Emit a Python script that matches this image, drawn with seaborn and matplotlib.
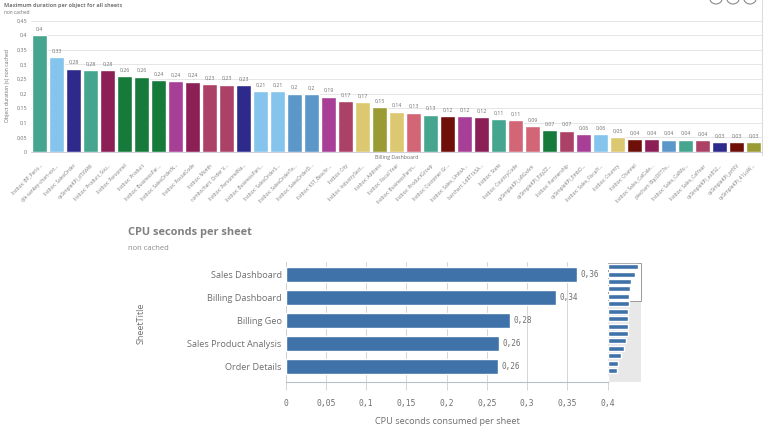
import matplotlib
matplotlib.use("Agg")
import matplotlib.pyplot as plt
from matplotlib.lines import Line2D
from matplotlib.patches import Ellipse
import pandas as pd
import seaborn as sns

# ---------- data ----------
object_names = [
    "listbox: BP_Perio...", "qlik-sankey-chart-ext...", "listbox: SalesOrder", "qsSimpleKPI_dTXWW",
    "listbox: Product_Sou...", "listbox: Personnel", "listbox: Product", "listbox: BusinessPar...",
    "listbox: SalesOrderN...", "listbox: PostalCode", "listbox: Month", "combochart: Order V...",
    "listbox: PersonnelNa...", "listbox: BusinessPart...", "listbox: SalesOrderS...", "listbox: SalesOrderTe...",
    "listbox: SalesOrderD...", "listbox: KST_Beschr...", "listbox: City", "listbox: IndustrySect...",
    "listbox: Address", "listbox: Fiscal Year", "listbox: BusinessPartn...", "listbox: ProductGroup",
    "listbox: Customer Gr...", "listbox: Sales_UnitsA...", "barchart: LdRT1kSA...", "listbox: State",
    "listbox: CountryCode", "qsSimpleKPI_uRGxAm", "qsSimpleKPI_EdyZZ...", "listbox: Partnership",
    "qsSimpleKPI_EmbO...", "listbox: Sales_FiscalY...", "listbox: Country", "listbox: Channel",
    "listbox: Sales_CalCale...", "piechart: BqcDFT7e...", "listbox: Sales_CalMo...", "listbox: Sales_CalYear",
    "qsSimpleKPI_aoES2...", "qsSimpleKPI_prfXV", "qsSimpleKPI_41LoW...",
]
object_duration = [
    0.400, 0.325, 0.285, 0.280, 0.280, 0.260, 0.258, 0.245, 0.242, 0.241, 0.232,
    0.231, 0.228, 0.209, 0.209, 0.200, 0.198, 0.190, 0.175, 0.170, 0.153, 0.138,
    0.135, 0.128, 0.123, 0.122, 0.120, 0.112, 0.110, 0.089, 0.075, 0.073, 0.062,
    0.060, 0.050, 0.045, 0.044, 0.042, 0.042, 0.041, 0.033, 0.033, 0.033,
]
object_value_labels = [
    "0,4", "0,33", "0,28", "0,28", "0,28", "0,26", "0,26", "0,24", "0,24", "0,24", "0,23",
    "0,23", "0,23", "0,21", "0,21", "0,2", "0,2", "0,19", "0,17", "0,17", "0,15", "0,14",
    "0,13", "0,13", "0,12", "0,12", "0,12", "0,11", "0,11", "0,09", "0,07", "0,07", "0,06",
    "0,06", "0,05", "0,04", "0,04", "0,04", "0,04", "0,04", "0,03", "0,03", "0,03",
]
TEAL, SKY, NAVY, MAROON, GREEN = "#45a58f", "#85c4ec", "#2e2a8c", "#8c1f56", "#167a3a"
PURPLE, ROSE, STEEL, YELLOW, OLIVE = "#a73f96", "#ac4167", "#5b97c9", "#dcc870", "#9a9b32"
PINK, DARKRED = "#d26677", "#6e0f0a"
object_colors = [
    TEAL, SKY, NAVY, TEAL, MAROON, GREEN, GREEN, GREEN, PURPLE, MAROON, ROSE,
    ROSE, NAVY, SKY, SKY, STEEL, STEEL, PURPLE, ROSE, YELLOW, OLIVE, YELLOW,
    PINK, TEAL, DARKRED, PURPLE, MAROON, TEAL, PINK, PINK, GREEN, ROSE, PURPLE,
    SKY, YELLOW, DARKRED, MAROON, STEEL, TEAL, ROSE, NAVY, DARKRED, OLIVE,
]
y_ticks_top = [0, 0.05, 0.1, 0.15, 0.2, 0.25, 0.3, 0.35, 0.4, 0.45]
y_tick_labels_top = ["0", "0,05", "0,1", "0,15", "0,2", "0,25", "0,3", "0,35", "0,4", "0,45"]

sheet_titles = ["Sales Dashboard", "Billing Dashboard", "Billing Geo", "Sales Product Analysis", "Order Details", ""]
sheet_cpu = [0.362, 0.336, 0.279, 0.265, 0.264, 0.264]
sheet_value_labels = ["0,36", "0,34", "0,28", "0,26", "0,26"]
x_ticks_bottom = [0, 0.05, 0.1, 0.15, 0.2, 0.25, 0.3, 0.35, 0.4]
x_tick_labels_bottom = ["0", "0,05", "0,1", "0,15", "0,2", "0,25", "0,3", "0,35", "0,4"]
mini_rank = list(range(16))
mini_cpu = [0.362, 0.336, 0.279, 0.265, 0.264, 0.264, 0.250, 0.247, 0.246, 0.243,
            0.227, 0.198, 0.165, 0.130, 0.113, 0.008]

# ---------- figure ----------
W, H = 768, 433
sns.set_theme(style="white")
plt.rcParams["font.family"] = ["Open Sans", "DejaVu Sans"]
fig = plt.figure(figsize=(W / 100, H / 100), dpi=100, facecolor="white")


def box(l, t, r, b):
    return [l / W, 1 - b / H, (r - l) / W, (b - t) / H]


def ftext(x, y, s, **kw):
    fig.text(x / W, 1 - y / H, s, va="center", **kw)


TXT = "#6f6f6f"
GRID = "#e6e6e6"

# ---------- top chart ----------
ax = fig.add_axes(box(31.2, 20.6, 762, 152))
top = pd.DataFrame({"object": object_names, "duration": object_duration})
sns.barplot(data=top, x="object", y="duration", hue="object", palette=object_colors,
            legend=False, width=0.9, saturation=1, ax=ax, zorder=3)
ax.set_xlim(-0.5, len(object_names) - 0.5)
ax.set_ylim(0, 0.45)
ax.set_yticks(y_ticks_top, y_tick_labels_top)
ax.set_axisbelow(True)
ax.grid(axis="y", color=GRID, lw=0.7)
ax.tick_params(axis="y", length=0, labelsize=3.9, labelcolor=TXT, pad=3)
ax.set_xticks(range(len(object_names)))
ax.set_xticklabels(object_names, rotation=45, ha="right", rotation_mode="anchor",
                   fontsize=3.5, color="#7d7d7d")
ax.tick_params(axis="x", length=0, pad=8)
for side in ["top", "right", "left"]:
    ax.spines[side].set_visible(False)
ax.spines["bottom"].set_color("#c9c4d6")
ax.spines["bottom"].set_linewidth(0.6)
ax.set_xlabel("")
ax.set_ylabel("")
for i, (v, s) in enumerate(zip(object_duration, object_value_labels)):
    ax.annotate(s, (i, v), xytext=(0, 2.6), textcoords="offset points", ha="center",
                va="bottom", fontsize=3.8, color=TXT)

ftext(4, 5, "Maximum duration per object for all sheets", fontsize=4.0, fontweight="bold", color="#7b7b7b")
ftext(4, 13, "non cached", fontsize=3.4, color=TXT)
ftext(397, 158, "Billing Dashboard", fontsize=3.8, color=TXT, ha="center")
fig.text(8 / W, 1 - 85 / H, "Object duration (s) non cached", fontsize=3.7, color=TXT,
         rotation=90, ha="center", va="center")
fig.add_artist(Line2D([762 / W, 762 / W], [1 - 155 / H, 1], color="#dcdcdc", lw=0.8))
for cx in (716, 733, 750):
    fig.add_artist(Ellipse((cx / W, 1 + 2.5 / H), 13 / W, 13 / H, fill=False,
                           ec="#8a8a8a", lw=0.8, transform=fig.transFigure))

# ---------- bottom chart ----------
BLUE = "#3f72a8"
ax2 = fig.add_axes(box(285.7, 262, 607.7, 382.3))
low = pd.DataFrame({"sheet": sheet_titles, "cpu": sheet_cpu})
sns.barplot(data=low, y="sheet", x="cpu", color=BLUE, saturation=1, width=0.68, ax=ax2, zorder=3)
ax2.set_ylim(4.687, -0.543)
ax2.set_xlim(0, 0.4)
ax2.set_axisbelow(True)
ax2.grid(axis="x", color="#d5d5d5", lw=0.7)
ax2.set_xticks(x_ticks_bottom, x_tick_labels_bottom)
ax2.tick_params(axis="x", length=6, width=0.7, color="#d5d5d5", pad=6, bottom=True)
for lab in ax2.get_xticklabels():
    lab.set_fontfamily("DejaVu Sans Mono")
    lab.set_fontsize(5.8)
    lab.set_color(TXT)
ax2.tick_params(axis="y", length=0, labelsize=6.6, labelcolor=TXT, pad=3)
for side in ["top", "right"]:
    ax2.spines[side].set_visible(False)
ax2.spines["left"].set_color("#cfcfcf")
ax2.spines["left"].set_linewidth(0.7)
ax2.spines["bottom"].set_color("#b9bfca")
ax2.spines["bottom"].set_linewidth(0.8)
ax2.set_xlabel("")
ax2.set_ylabel("")
for i, s in enumerate(sheet_value_labels):
    ax2.annotate(s, (sheet_cpu[i], i), xytext=(2.4, 0), textcoords="offset points", va="center",
                 family="DejaVu Sans Mono", fontsize=5.6, color=TXT)

ftext(128, 232, "CPU seconds per sheet", fontsize=7.9, fontweight="bold", color="#808080")
ftext(128, 248, "non cached", fontsize=5.5, color="#8a8a8a")
ftext(447, 422, "CPU seconds consumed per sheet", fontsize=6.6, color=TXT, ha="center")
fig.text(141 / W, 1 - 323 / H, "SheetTitle", fontsize=6.5, color=TXT, rotation=90, ha="center", va="center")

# ---------- mini scroll chart ----------
ax3 = fig.add_axes(box(607.7, 263, 640.7, 381.7), facecolor="#e8e8e8")
mini = pd.DataFrame({"rank": mini_rank, "cpu": mini_cpu})
sns.barplot(data=mini, y="rank", x="cpu", orient="h", color=BLUE, saturation=1, width=0.68,
            ax=ax3, zorder=3)
ax3.set_ylim(15.5, -0.5)
ax3.set_xlim(0, 0.4)
ax3.set_xticks([])
ax3.set_yticks([])
ax3.set_xlabel("")
ax3.set_ylabel("")
for s in ax3.spines.values():
    s.set_visible(False)
ax3.axhspan(-0.5, 4.62, fc="white", ec="#9a9a9a", lw=0.7, zorder=1, clip_on=False)

fig.savefig("out.png", dpi=100)
